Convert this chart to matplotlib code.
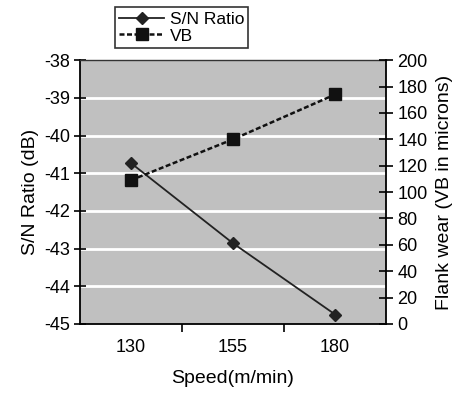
import matplotlib.pyplot as plt

speeds = ['130', '155', '180']
sn_ratio = [-40.73, -42.86, -44.75]
vb = [109, 140, 174]
left_ticks = [-38, -39, -40, -41, -42, -43, -44, -45]
right_ticks = [0, 20, 40, 60, 80, 100, 120, 140, 160, 180, 200]

plt.rcParams['font.family'] = ['Liberation Sans', 'DejaVu Sans']

fig = plt.figure(figsize=(4.67, 3.96), dpi=100)
ax = fig.add_axes([0.171, 0.182, 0.656, 0.666])
ax.set_facecolor('#c0c0c0')
x = [1, 2, 3]

ax.set_xlim(0.5, 3.5)
ax.set_ylim(-45, -38)
ax.set_yticks(left_ticks)
ax.set_yticklabels([str(t) for t in left_ticks])
ax.set_xticks([1.5, 2.5])
ax.set_xticklabels([])
ax.set_xticks(x, minor=True)
ax.set_xticklabels(speeds, minor=True)
ax.tick_params(axis='x', which='minor', length=0, labelsize=13, pad=11)
ax.tick_params(axis='x', which='major', direction='out', length=6, width=1.2)
ax.tick_params(axis='y', direction='inout', length=8, width=1.2, labelsize=13,
               pad=3)
for t in left_ticks[1:-1]:
    ax.axhline(t, color='white', lw=2, zorder=1)
for s in ['left', 'bottom']:
    ax.spines[s].set_linewidth(1.3)
ax.spines['top'].set_visible(False)
ax.spines['right'].set_visible(False)

l1, = ax.plot(x, sn_ratio, color='#222222', lw=1.3, marker='D', markersize=6.5,
              zorder=3, label='S/N Ratio')
ax.set_ylabel('S/N Ratio (dB)', fontsize=14, labelpad=4)
ax.set_xlabel('Speed(m/min)', fontsize=14, labelpad=10)

ax2 = ax.twinx()
ax2.set_ylim(0, 200)
ax2.set_yticks(right_ticks)
ax2.tick_params(axis='y', direction='inout', length=10, width=1.2, labelsize=13,
                pad=3)
ax2.spines['right'].set_linewidth(1.3)
ax2.spines['top'].set_visible(False)
ax2.spines['left'].set_visible(False)
ax2.spines['bottom'].set_visible(False)
l2, = ax2.plot(x, vb, color='#111111', lw=1.8, ls=(0, (2, 1)), marker='s',
               markersize=8, zorder=3, label='VB')
ax2.set_ylabel('Flank wear (VB in microns)', fontsize=14, labelpad=6)

# thin top border of the plot area
ax.plot([0.5, 3.5], [-38, -38], color='#333333', lw=1, clip_on=False, zorder=4)

leg = fig.legend(handles=[l1, l2], loc='upper left', bbox_to_anchor=(0.235, 0.995),
                 fontsize=12.5, frameon=True, fancybox=False, edgecolor='black',
                 borderpad=0.25, labelspacing=0.1, handlelength=2.6,
                 handletextpad=0.3, borderaxespad=0.3)
leg.get_frame().set_linewidth(1.2)

fig.savefig('out.png', dpi=100)
